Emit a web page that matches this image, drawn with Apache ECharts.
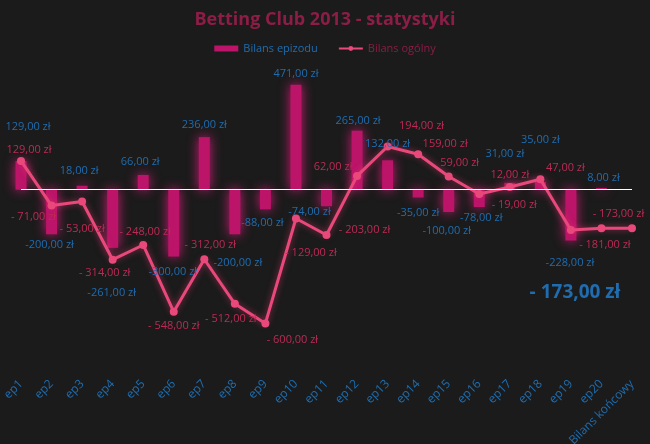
<!DOCTYPE html>
<html>
<head>
<meta charset="utf-8">
<script src="https://cdn.jsdelivr.net/npm/echarts@6/dist/echarts.min.js"></script>
<style>
html,body{margin:0;padding:0;background:#1b1b1b;}
#c{width:650px;height:444px;}
</style>
</head>
<body>
<div id="c"></div>
<script>
// ---- data ----
var categories = ['ep1','ep2','ep3','ep4','ep5','ep6','ep7','ep8','ep9','ep10','ep11','ep12','ep13','ep14','ep15','ep16','ep17','ep18','ep19','ep20','Bilans końcowy'];
var episodeBalance = [129,-200,18,-261,66,-300,236,-200,-88,471,-74,265,132,-35,-100,-78,31,35,-228,8,null];
var totalBalance = [129,-71,-53,-314,-248,-548,-312,-512,-600,-129,-203,62,194,159,59,-19,12,47,-181,-173,-173];

// ---- label placement (style only) ----
var barLabelShift = [[7,-34],[-2,11],[-3,-15],[-1,45],[-3,-13],[-1,15],[0,-12],[3,29],[-3,14],[0,-11],[-17,6],[1,-10],[0,-16],[0,15],[-2,19],[2,11],[-5,-29],[0,-42],[-1,22],[2,-10],[0,0]];
var lineLabelShift = [[8,-11],[-18,11],[0,27],[-8,13],[2,-13],[0,14],[6,-14],[-4,15],[27,16],[15,34],[38,-5],[-24,-9],[34,-21],[27,-10],[11,-14],[35,11],[0,-12],[25,-11],[34,15],[17,-14],[-57,64]];

function fmt(v, spaced){
  var s = Math.abs(v).toFixed(2).replace('.', ',') + ' zł';
  if (v < 0) return (spaced ? '- ' : '-') + s;
  return s;
}

var FONT = 'Open Sans';
var BLUE = '#1f6db0';
var PINK_TXT = '#bd2a55';
var BAR = '#bb1468';
var LINE = '#e9487b';

var barLabelData = episodeBalance.map(function(v, i){
  if (v === null) return {value: null};
  return {value: v, label: {show: true, offset: barLabelShift[i], formatter: fmt(v, false)}};
});
var lineData = totalBalance.map(function(v, i){
  var last = i === totalBalance.length - 1;
  return {value: v, label: {show: true, offset: lineLabelShift[i], formatter: fmt(v, true),
    color: last ? BLUE : PINK_TXT, fontSize: last ? 19 : 11, fontWeight: last ? 'bold' : 'normal'}};
});

var chart = echarts.init(document.getElementById('c'), null, {renderer: 'canvas'});
chart.setOption({
  backgroundColor: '#1b1b1b',
  animation: false,
  title: {text: 'Betting Club 2013 - statystyki', left: 'center', top: 6,
    textStyle: {color: '#8c1d46', fontSize: 18, fontWeight: 'bold', fontFamily: FONT}},
  legend: {top: 38, left: 'center', itemGap: 20, itemWidth: 24, itemHeight: 6,
    textStyle: {fontFamily: FONT, fontSize: 11},
    data: [
      {name: 'Bilans epizodu', icon: 'rect', textStyle: {color: BLUE}},
      {name: 'Bilans ogólny', textStyle: {color: '#8c1d46'}}
    ]},
  grid: {left: 21, right: 18, top: 56, bottom: 76, containLabel: false, outerBoundsMode: 'none'},
  xAxis: {type: 'category', data: categories, boundaryGap: false,
    axisLine: {show: false}, axisTick: {show: false}, splitLine: {show: false},
    axisLabel: {rotate: 45, color: BLUE, fontFamily: FONT, fontSize: 12, margin: 14, interval: 0}},
  yAxis: {type: 'value', min: -800, max: 600, show: false, splitLine: {show: false}},
  series: [
    {name: 'Bilans epizodu', type: 'bar', data: episodeBalance, barWidth: 11, clip: true,
      itemStyle: {color: BAR, shadowColor: 'rgba(230,30,130,0.9)', shadowBlur: 12},
      markLine: {silent: true, symbol: 'none', label: {show: false},
        lineStyle: {color: '#ffffff', width: 1.2, type: 'solid'}, data: [{yAxis: 0}]},
      z: 2},
    {name: 'barLabels', type: 'line', data: barLabelData, symbol: 'circle', symbolSize: 1,
      itemStyle: {color: 'rgba(0,0,0,0)'}, lineStyle: {width: 0, color: 'rgba(0,0,0,0)'}, silent: true, legendHoverLink: false,
      label: {position: 'inside', color: BLUE, fontFamily: FONT, fontSize: 11}, z: 5},
    {name: 'Bilans ogólny', type: 'line', data: lineData, symbol: 'circle', symbolSize: 8,
      lineStyle: {color: LINE, width: 3, shadowColor: 'rgba(240,60,120,0.6)', shadowBlur: 6},
      itemStyle: {color: LINE},
      label: {position: 'inside', fontFamily: FONT}, z: 4}
  ]
});
</script>
</body>
</html>
